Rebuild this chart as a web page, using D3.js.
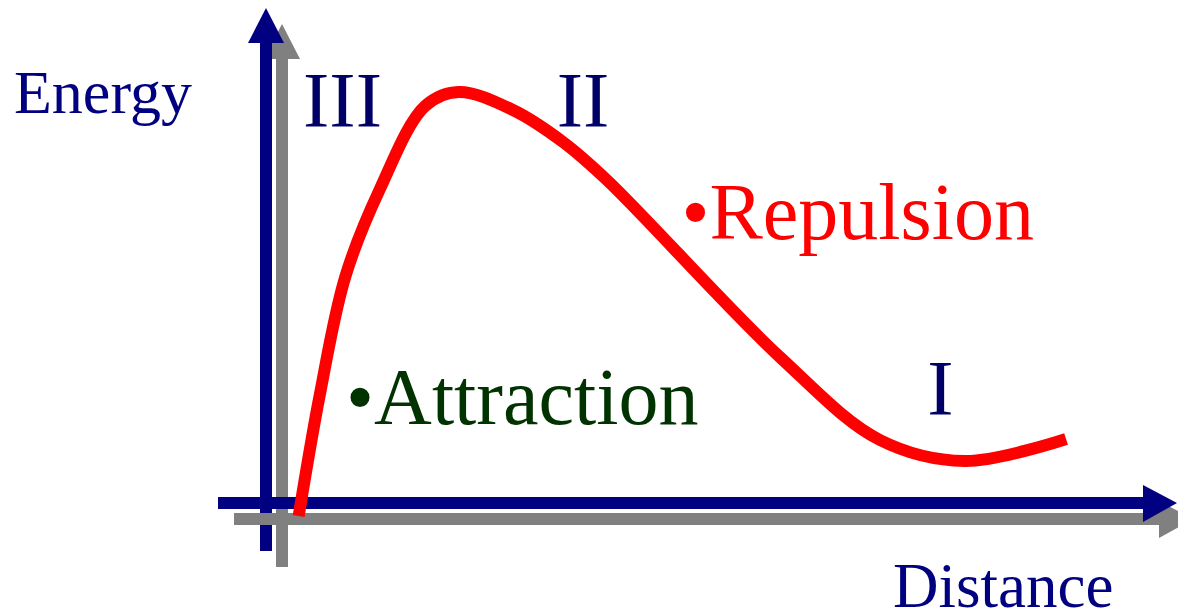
<!DOCTYPE html>
<html>
<head>
<meta charset="utf-8">
<script src="https://cdn.jsdelivr.net/npm/d3@7"></script>
<style>
  html, body { margin: 0; padding: 0; background: #ffffff; }
  svg { display: block; }
</style>
</head>
<body>
<div id="chart"></div>
<script>
// curve values (distance, energy)
const distance = [1.9, 4.3, 7.2, 11.1, 16.3, 20.1, 26.3, 32.0, 37.0, 56.7, 68.1, 77.8, 89.3];
const energy   = [0.6, 24.8, 48.4, 65.8, 82.6, 85.4, 81.8, 75.4, 67.8, 32.4, 15.8, 11.6, 16.0];

// region labels
const regionLabels = ['III', 'II', 'I'];
const regionX = [2.4, 31.3, 73.5];
const regionY = [78.6, 78.6, 21.0];

// notes
const noteLabels = ['\u2022Repulsion', '\u2022Attraction'];
const noteX = [45.5, 7.3];
const noteY = [56.0, 19.0];
const noteColors = ['#ff0000', '#003300'];

const width = 1178;
const height = 613;
const shadow = 16;

const x = d3.scaleLinear().domain([0, 100]).range([282, 1160]);
const y = d3.scaleLinear().domain([0, 100]).range([519, 19]);

const svg = d3.select('#chart')
  .append('svg')
    .attr('width', width)
    .attr('height', height)
    .style('background-color', '#ffffff');

// axis = shaft + arrow head; the gray copy is shifted by `off`
function drawVertical(off, color) {
  const cx = x(0) - shadow + off;
  const g = svg.append('g');
  g.append('rect')
    .attr('x', cx - 6).attr('y', 43 + off)
    .attr('width', 12).attr('height', 508)
    .attr('fill', color);
  g.append('path')
    .attr('d', `M${cx - 18},${43 + off} L${cx},${8 + off} L${cx + 18},${43 + off} Z`)
    .attr('fill', color);
}

function drawHorizontal(off, color) {
  const cy = y(0) - shadow + off;
  const g = svg.append('g');
  g.append('rect')
    .attr('x', 218 + off).attr('y', cy - 6)
    .attr('width', 926).attr('height', 12)
    .attr('fill', color);
  g.append('path')
    .attr('d', `M${1143 + off},${cy - 18} L${1177 + off},${cy} L${1143 + off},${cy + 19} Z`)
    .attr('fill', color);
}

drawVertical(shadow, '#808080');
drawVertical(0, '#000080');
drawHorizontal(shadow, '#808080');
drawHorizontal(0, '#000080');

// energy curve
const points = distance.map((d, i) => [d, energy[i]]);
const line = d3.line()
  .x(d => x(d[0]))
  .y(d => y(d[1]))
  .curve(d3.curveCatmullRom.alpha(0.5));

svg.append('path')
  .datum(points)
  .attr('d', line)
  .attr('fill', 'none')
  .attr('stroke', '#ff0000')
  .attr('stroke-width', 12)
  .attr('stroke-linejoin', 'round')
  .attr('stroke-linecap', 'butt');

// axis titles
svg.append('text')
  .attr('x', 14).attr('y', 113)
  .style('font-family', '"Liberation Serif", "Times New Roman", serif')
  .style('font-size', '62px')
  .style('fill', '#000080')
  .text('Energy');

svg.append('text')
  .attr('x', 893).attr('y', 607)
  .style('font-family', '"Liberation Serif", "Times New Roman", serif')
  .style('font-size', '63px')
  .style('fill', '#000080')
  .text('Distance');

// region numerals
svg.append('g')
  .selectAll('text')
  .data(regionLabels)
  .enter()
  .append('text')
    .attr('x', (d, i) => x(regionX[i]))
    .attr('y', (d, i) => y(regionY[i]))
    .style('font-family', '"Liberation Serif", "Times New Roman", serif')
    .style('font-size', '79px')
    .style('fill', '#000066')
    .text(d => d);

// bullet notes
svg.append('g')
  .selectAll('text')
  .data(noteLabels)
  .enter()
  .append('text')
    .attr('x', (d, i) => x(noteX[i]))
    .attr('y', (d, i) => y(noteY[i]))
    .style('font-family', '"Liberation Serif", "Times New Roman", serif')
    .style('font-size', '80px')
    .style('fill', (d, i) => noteColors[i])
    .text(d => d);
</script>
</body>
</html>
